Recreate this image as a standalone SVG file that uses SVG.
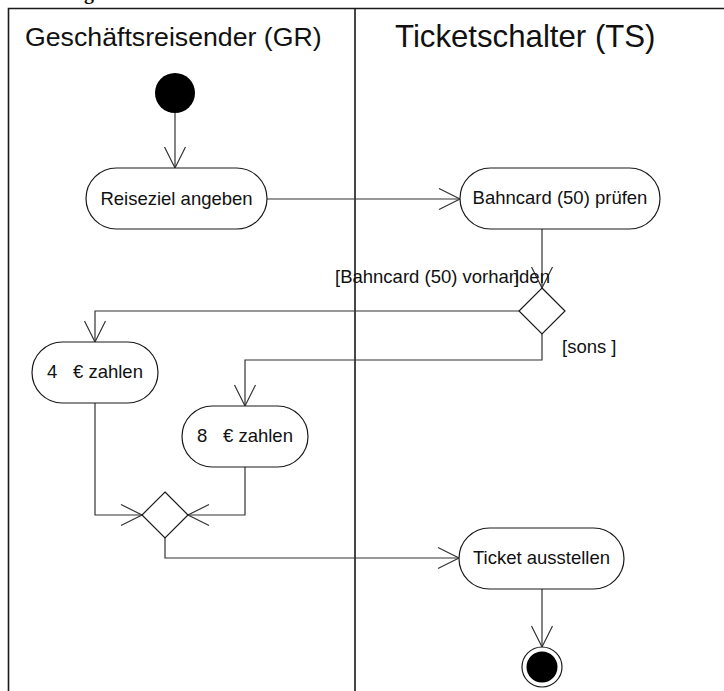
<svg xmlns="http://www.w3.org/2000/svg" width="724" height="691" viewBox="0 0 724 691">
<style>
.lane{fill:none;stroke:#1a1a1a;stroke-width:1.6}
.node{fill:#fff;stroke:#1a1a1a;stroke-width:1.2}
.conn{fill:none;stroke:#333;stroke-width:1.2}
.t{font-family:"Liberation Sans",Arial,sans-serif;font-size:18.5px;fill:#111}
.h{font-family:"Liberation Sans",Arial,sans-serif;fill:#111}
</style>
<defs>
<marker id="arr" markerUnits="userSpaceOnUse" markerWidth="30" markerHeight="30" viewBox="-25 -15 30 30" refX="0" refY="0" orient="auto">
<path d="M-21,-10.5 L0,0 L-21,10.5" fill="none" stroke="#333" stroke-width="1.2"/>
</marker>
</defs>
<rect width="724" height="691" fill="#fff"/>
<text x="84" y="-1" font-family="'Liberation Serif',serif" font-weight="bold" font-size="20" fill="#111">g</text>
<g id="lanes">
<path class="lane" d="M8.5,691 V8.5 H724 M355,8.5 V691"/>
<text class="h" x="25" y="46" font-size="26.7">Geschäftsreisender (GR)</text>
<text class="h" x="395" y="47" font-size="31.2">Ticketschalter (TS)</text>
</g>
<g id="connectors">
<path class="conn" d="M175,113 V168" marker-end="url(#arr)"/>
<path class="conn" d="M267,199 H460" marker-end="url(#arr)"/>
<path class="conn" d="M542,229 V288" marker-end="url(#arr)"/>
<path class="conn" d="M519,311 H95 V342" marker-end="url(#arr)"/>
<path class="conn" d="M542,334 V360 H245 V406" marker-end="url(#arr)"/>
<path class="conn" d="M95,403 V515 H142" marker-end="url(#arr)"/>
<path class="conn" d="M245,467 V515 H188" marker-end="url(#arr)"/>
<path class="conn" d="M165,538 V558 H459" marker-end="url(#arr)"/>
<path class="conn" d="M542,589 V647" marker-end="url(#arr)"/>
<text class="t" x="335" y="283">[Bahncard (50) vorhanden</text>
<text class="t" x="514" y="283">]</text>
<text class="t" x="562" y="353">[sons ]</text>
</g>
<g id="start"><circle cx="175" cy="93" r="20" fill="#000"/></g>
<g id="reiseziel">
<rect class="node" x="86" y="168" width="181" height="61" rx="30.5"/>
<text class="t" x="176.5" y="205" text-anchor="middle">Reiseziel angeben</text>
</g>
<g id="bahncard">
<rect class="node" x="460" y="168" width="200" height="61" rx="30.5"/>
<text class="t" x="560" y="204" text-anchor="middle">Bahncard (50) prüfen</text>
</g>
<g id="decision"><path class="node" d="M542,288 L565,311 L542,334 L519,311 Z"/></g>
<g id="zahlen4">
<rect class="node" x="32" y="342" width="126" height="61" rx="30.5"/>
<text class="t" x="47" y="378">4</text>
<text class="t" x="73" y="378">€ zahlen</text>
</g>
<g id="zahlen8">
<rect class="node" x="182" y="406" width="126" height="61" rx="30.5"/>
<text class="t" x="197" y="442">8</text>
<text class="t" x="223" y="442">€ zahlen</text>
</g>
<g id="merge"><path class="node" d="M165,492 L188,515 L165,538 L142,515 Z"/></g>
<g id="ticket">
<rect class="node" x="459" y="528" width="165" height="61" rx="30.5"/>
<text class="t" x="541.5" y="564" text-anchor="middle">Ticket ausstellen</text>
</g>
<g id="end">
<circle cx="542" cy="667" r="20" fill="#fff" stroke="#1a1a1a" stroke-width="1.2"/>
<circle cx="542" cy="667" r="15.5" fill="#000"/>
</g>
</svg>
